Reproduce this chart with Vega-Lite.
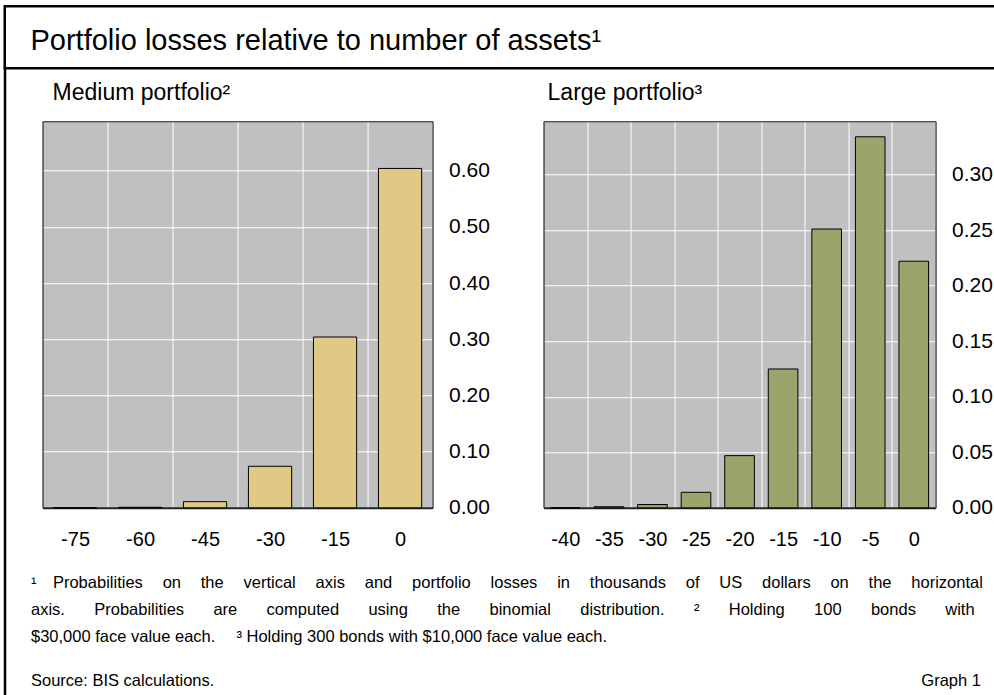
{
  "$schema": "https://vega.github.io/schema/vega-lite/v6.json",
  "background": "white",
  "padding": {"left": 2.75, "top": 4.25, "right": 0, "bottom": 0},
  "autosize": {"type": "pad"},
  "config": {
    "font": "Liberation Sans",
    "view": {"stroke": null},
    "title": {"font": "Liberation Sans", "fontWeight": "normal", "color": "black", "anchor": "start", "frame": "group", "baseline": "alphabetic",
      "subtitleFont": "Liberation Sans", "subtitleColor": "black", "subtitleFontSize": 16.5},
    "axis": {"labelFont": "Liberation Sans", "labelColor": "black", "labelFontSize": 20, "title": null, "ticks": false, "tickSize": 0}
  },
  "datasets": {
    "medium": [
      {"loss": -75, "prob": 0.0},
      {"loss": -60, "prob": 0.001},
      {"loss": -45, "prob": 0.011},
      {"loss": -30, "prob": 0.074},
      {"loss": -15, "prob": 0.304},
      {"loss": 0, "prob": 0.604}
    ],
    "large": [
      {"loss": -40, "prob": 0.0},
      {"loss": -35, "prob": 0.001},
      {"loss": -30, "prob": 0.003},
      {"loss": -25, "prob": 0.014},
      {"loss": -20, "prob": 0.047},
      {"loss": -15, "prob": 0.125},
      {"loss": -10, "prob": 0.251},
      {"loss": -5, "prob": 0.334},
      {"loss": 0, "prob": 0.222}
    ]
  },
  "bounds": "flush",
  "spacing": 0,
  "vconcat": [
    {
      "width": 1000,
      "height": 62,
      "view": {"stroke": "black", "strokeWidth": 2.5},
      "title": {"text": "Portfolio losses relative to number of assets¹", "fontSize": 29, "dx": 25.7, "offset": -49.5},
      "data": {"values": []},
      "mark": "point"
    },
    {
      "bounds": "flush",
      "spacing": 36.8,
      "hconcat": [
        {"width": 0.5, "height": 640, "view": {"stroke": "black", "strokeWidth": 2}, "data": {"values": []}, "mark": "point"},
        {
          "bounds": "flush",
          "spacing": 0,
          "vconcat": [
            {"width": 10, "height": 52.7, "data": {"values": []}, "mark": "point"},
            {
              "bounds": "flush",
              "columns": 2,
              "spacing": {"row": 0, "column": 111},
              "concat": [
                {
                  "width": 390,
                  "height": 386.6,
                  "title": {"text": "Medium portfolio²", "fontSize": 23, "offset": 16, "dx": 10},
                  "data": {"name": "medium"},
                  "view": {"fill": "#c0c0c0"},
                  "layer": [
                    {
                      "mark": {"type": "bar", "fill": "#e0c985", "stroke": "black", "strokeWidth": 1, "width": {"band": 0.665}},
                      "encoding": {
                        "x": {"field": "loss", "type": "ordinal", "scale": {"paddingInner": 0, "paddingOuter": 0},
                          "axis": {"orient": "bottom", "labelAngle": 0, "labelPadding": 22, "tickBand": "extent", "grid": true, "gridColor": "white", "gridWidth": 1, "gridOpacity": 1, "domainColor": "#222", "domainWidth": 2}},
                        "y": {"field": "prob", "type": "quantitative", "scale": {"domain": [0, 0.688], "nice": false},
                          "axis": {"orient": "right", "values": [0, 0.1, 0.2, 0.3, 0.4, 0.5, 0.6], "format": ".2f", "labelFontSize": 21, "labelPadding": 16, "grid": true, "gridColor": "white", "gridOpacity": 1, "domainColor": "#222", "domainWidth": 1.2}}
                      }
                    },
                    {
                      "mark": {"type": "bar", "opacity": 0, "width": {"band": 0.665}},
                      "encoding": {
                        "x": {"field": "loss", "type": "ordinal", "scale": {"paddingInner": 0, "paddingOuter": 0},
                          "axis": {"orient": "top", "labels": false, "grid": false, "domainColor": "#222", "domainWidth": 1.2}},
                        "y": {"field": "prob", "type": "quantitative", "scale": {"domain": [0, 0.688], "nice": false},
                          "axis": {"orient": "left", "labels": false, "grid": false, "domainColor": "#222", "domainWidth": 1.2}}
                      }
                    }
                  ],
                  "resolve": {"axis": {"x": "independent", "y": "independent"}}
                },
                {
                  "width": 392,
                  "height": 386.6,
                  "title": {"text": "Large portfolio³", "fontSize": 23, "offset": 16, "dx": 4},
                  "data": {"name": "large"},
                  "view": {"fill": "#c0c0c0"},
                  "layer": [
                    {
                      "mark": {"type": "bar", "fill": "#9ba56b", "stroke": "black", "strokeWidth": 1, "width": {"band": 0.68}},
                      "encoding": {
                        "x": {"field": "loss", "type": "ordinal", "scale": {"paddingInner": 0, "paddingOuter": 0},
                          "axis": {"orient": "bottom", "labelAngle": 0, "labelPadding": 22, "tickBand": "extent", "grid": true, "gridColor": "white", "gridWidth": 1, "gridOpacity": 1, "domainColor": "#222", "domainWidth": 2}},
                        "y": {"field": "prob", "type": "quantitative", "scale": {"domain": [0, 0.348], "nice": false},
                          "axis": {"orient": "right", "values": [0, 0.05, 0.1, 0.15, 0.2, 0.25, 0.3], "format": ".2f", "labelFontSize": 21, "labelPadding": 16, "grid": true, "gridColor": "white", "gridOpacity": 1, "domainColor": "#222", "domainWidth": 1.2}}
                      }
                    },
                    {
                      "mark": {"type": "bar", "opacity": 0, "width": {"band": 0.68}},
                      "encoding": {
                        "x": {"field": "loss", "type": "ordinal", "scale": {"paddingInner": 0, "paddingOuter": 0},
                          "axis": {"orient": "top", "labels": false, "grid": false, "domainColor": "#222", "domainWidth": 1.2}},
                        "y": {"field": "prob", "type": "quantitative", "scale": {"domain": [0, 0.348], "nice": false},
                          "axis": {"orient": "left", "labels": false, "grid": false, "domainColor": "#222", "domainWidth": 1.2}}
                      }
                    }
                  ],
                  "resolve": {"axis": {"x": "independent", "y": "independent"}}
                },
                {
                  "width": 390,
                  "height": 1,
                  "title": {
                    "text": [
                      "¹\u2003Probabilities\u2003\u2009on\u2003\u2009the\u2003\u2009vertical\u2003\u2009axis\u2003\u2009and\u2003\u2009portfolio\u2003\u2009losses\u2003\u2009in\u2003\u2009thousands\u2003\u2009of\u2003\u2009US\u2003\u2009dollars\u2003\u2009on\u2003\u2009the\u2003\u2009horizontal",
                      "axis.\u2003\u2002 Probabilities\u2003\u2002 are\u2003\u2002 computed\u2003\u2002 using\u2003\u2002 the\u2003\u2002 binomial\u2003\u2002 distribution.\u2003\u2002 ²\u2003\u2002 Holding\u2003\u2002 100\u2003\u2002 bonds\u2003\u2002 with",
                      "$30,000 face value each.\u2003 ³ Holding 300 bonds with $10,000 face value each."
                    ],
                    "subtitle": "Source: BIS calculations.",
                    "subtitlePadding": 28,
                    "fontSize": 16.5, "lineHeight": 27, "dx": -11.6, "offset": -181.5
                  },
                  "data": {"values": []},
                  "mark": "point"
                },
                {
                  "width": 437.4,
                  "height": 1,
                  "title": {"text": "Graph 1", "anchor": "end", "fontSize": 16.5, "offset": -181.5},
                  "data": {"values": []},
                  "mark": "point"
                }
              ]
            }
          ]
        }
      ]
    }
  ]
}
